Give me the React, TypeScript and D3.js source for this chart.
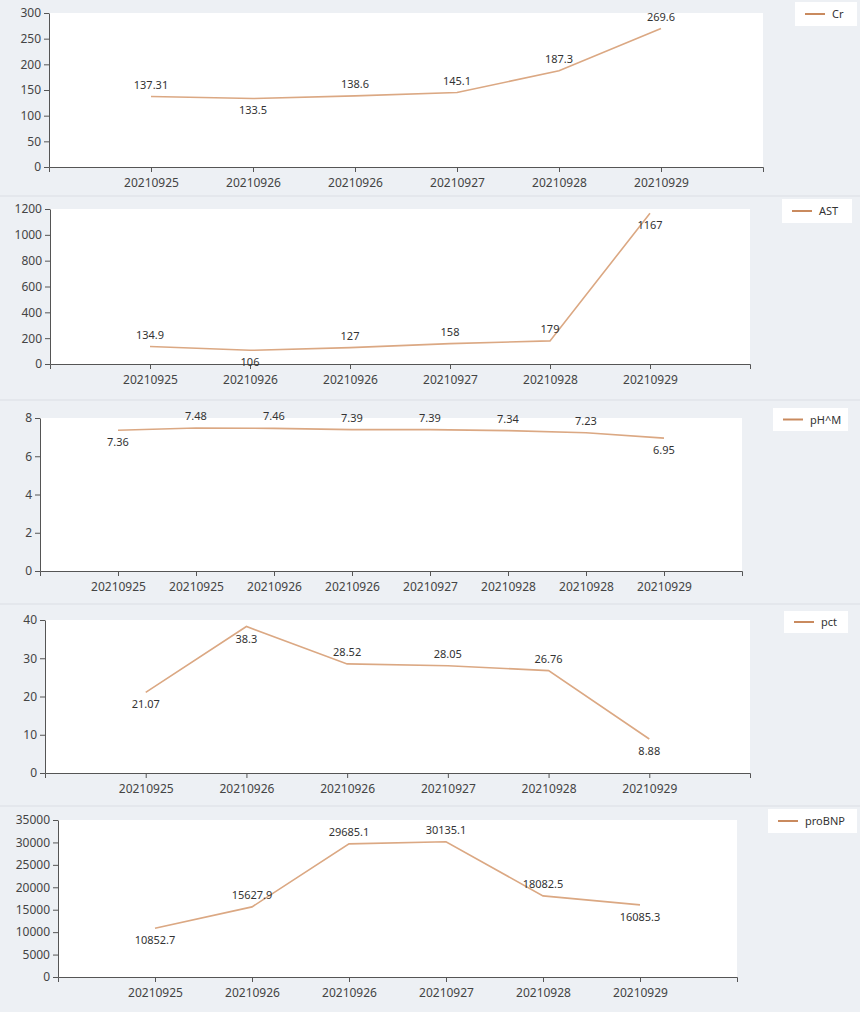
import * as d3 from "d3";
import { useRef, useEffect } from "react";

const W = 860;
const H = 1012;

// categories
const dates6 = ["20210925", "20210926", "20210926", "20210927", "20210928", "20210929"];
const datesPh = ["20210925", "20210925", "20210926", "20210926", "20210927", "20210928", "20210928", "20210929"];

// series values
const crValues = [137.31, 133.5, 138.6, 145.1, 187.3, 269.6];
const astValues = [134.9, 106, 127, 158, 179, 1167];
const phValues = [7.36, 7.48, 7.46, 7.39, 7.39, 7.34, 7.23, 6.95];
const pctValues = [21.07, 38.3, 28.52, 28.05, 26.76, 8.88];
const bnpValues = [10852.7, 15627.9, 29685.1, 30135.1, 18082.5, 16085.3];

// value label side: a = above, b = below
const crLabelSide = ["a", "b", "a", "a", "a", "a"];
const astLabelSide = ["a", "b", "a", "a", "a", "b"];
const phLabelSide = ["b", "a", "a", "a", "a", "a", "a", "b"];
const pctLabelSide = ["b", "b", "a", "a", "a", "b"];
const bnpLabelSide = ["b", "a", "a", "a", "a", "b"];

// y tick values
const crTicks = [0, 50, 100, 150, 200, 250, 300];
const astTicks = [0, 200, 400, 600, 800, 1000, 1200];
const phTicks = [0, 2, 4, 6, 8];
const pctTicks = [0, 10, 20, 30, 40];
const bnpTicks = [0, 5000, 10000, 15000, 20000, 25000, 30000, 35000];

interface Panel {
  name: string;
  cats: string[];
  values: number[];
  sides: string[];
  ticks: number[];
  left: number;
  right: number;
  top: number;
  bottom: number;
  legend: [number, number, number, number]; // x, y, w, h
}

const panels: Panel[] = [
  { name: "Cr", cats: dates6, values: crValues, sides: crLabelSide, ticks: crTicks,
    left: 49, right: 763, top: 13, bottom: 167, legend: [795, 2, 62, 24] },
  { name: "AST", cats: dates6, values: astValues, sides: astLabelSide, ticks: astTicks,
    left: 50, right: 750, top: 209, bottom: 364, legend: [782, 199, 70, 24] },
  { name: "pH^M", cats: datesPh, values: phValues, sides: phLabelSide, ticks: phTicks,
    left: 40, right: 742, top: 418, bottom: 571, legend: [773, 408, 75, 23] },
  { name: "pct", cats: dates6, values: pctValues, sides: pctLabelSide, ticks: pctTicks,
    left: 45, right: 750, top: 620, bottom: 773, legend: [784, 611, 64, 22] },
  { name: "proBNP", cats: dates6, values: bnpValues, sides: bnpLabelSide, ticks: bnpTicks,
    left: 58, right: 737, top: 820, bottom: 977, legend: [768, 809, 89, 24] },
];

const separators = [196, 400, 604, 806];

const FONT = "'Noto Sans', 'DejaVu Sans', sans-serif";

function LinePanel({ p }: { p: Panel }) {
  const gx = useRef<SVGGElement>(null);
  const gy = useRef<SVGGElement>(null);
  const n = p.values.length;

  const x = d3.scaleLinear().domain([0, n + 1]).range([p.left, p.right]);
  const y = d3.scaleLinear().domain([0, d3.max(p.ticks)!]).range([p.bottom, p.top]);

  const line = d3.line<number>()
    .x((d, i) => x(i + 1))
    .y((d) => y(d));

  useEffect(() => {
    const ax = d3.axisBottom(x)
      .tickValues(d3.range(1, n + 1))
      .tickFormat((d) => p.cats[(d as number) - 1])
      .tickSize(5)
      .tickSizeOuter(5);
    const g = d3.select(gx.current!).call(ax);
    g.select(".domain").attr("stroke", "#555");
    g.selectAll(".tick line").attr("stroke", "#555");
    g.selectAll(".tick text").attr("fill", "#444").attr("font-size", 12).attr("font-family", FONT).attr("dy", "1.0em");

    const ay = d3.axisLeft(y).tickValues(p.ticks).tickFormat(d3.format("d")).tickSize(5).tickSizeOuter(0);
    const gg = d3.select(gy.current!).call(ay);
    gg.select(".domain").attr("stroke", "#555");
    gg.selectAll(".tick line").attr("stroke", "#555");
    gg.selectAll(".tick text").attr("fill", "#444").attr("font-size", 12).attr("font-family", FONT);
  }, [p]);

  const [lx, ly, lw, lh] = p.legend;

  return (
    <g>
      <rect x={p.left} y={p.top} width={p.right - p.left} height={p.bottom - p.top} fill="#ffffff" />
      <path d={line(p.values)!} fill="none" stroke="#dba883" strokeWidth={1.6} />
      <g ref={gx} transform={`translate(0,${p.bottom})`} />
      <g ref={gy} transform={`translate(${p.left},0)`} />
      <g fontFamily={FONT} fontSize={11} fill="#333" textAnchor="middle">
        {p.values.map((v, i) => (
          <text key={i} x={x(i + 1)} y={y(v) + (p.sides[i] === "a" ? -8 : 16)}>
            {v}
          </text>
        ))}
      </g>
      <rect x={lx} y={ly} width={lw} height={lh} fill="#ffffff" />
      <line x1={lx + 10} x2={lx + 30} y1={ly + lh / 2} y2={ly + lh / 2} stroke="#c98a5e" strokeWidth={2} />
      <text x={lx + 37} y={ly + lh / 2 + 4} fontFamily={FONT} fontSize={11} fill="#333">{p.name}</text>
    </g>
  );
}

export default function App() {
  return (
    <svg width={W} height={H} style={{ position: "absolute", left: 0, top: 0 }}>
      <rect width={W} height={H} fill="#edf0f4" />
      {separators.map((s, i) => (
        <line key={i} x1={0} x2={W} y1={s} y2={s} stroke="#e1e4ea" strokeWidth={1.5} />
      ))}
      {panels.map((p) => (
        <LinePanel key={p.name} p={p} />
      ))}
    </svg>
  );
}
